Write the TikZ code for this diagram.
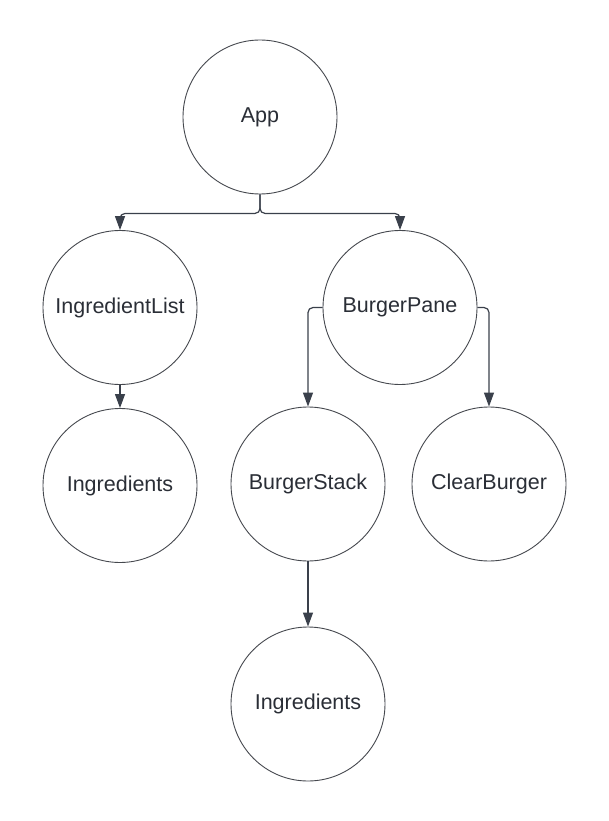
\documentclass[tikz,border=0pt]{standalone}
\usepackage{fontspec}
\setmainfont{Liberation Sans}
\usetikzlibrary{arrows.meta}
\definecolor{edgegray}{HTML}{45484E}
\definecolor{linkgray}{HTML}{3A404B}
\definecolor{inkdark}{HTML}{2A2E36}
\tikzset{
  comp/.style={circle, draw=edgegray, line width=0.9pt, minimum size=154pt, inner sep=0pt,
    text=inkdark, font=\fontsize{21.5}{25}\selectfont},
  link/.style={draw=linkgray, line width=1.2pt, rounded corners=5pt,
    -{Triangle[length=14pt,width=10pt,fill=linkgray]}}
}
\begin{document}
\begin{tikzpicture}[x=1pt, y=-1pt]
	\useasboundingbox (0,0) rectangle (608,821);
	\node[comp] (app) at (260,117) {App};
	\node[comp] (list) at (120,307.5) {IngredientList};
	\node[comp] (pane) at (400,307.5) {BurgerPane};
	\node[comp] (ingr) at (120,485.5) {Ingredients};
	\node[comp] (stack) at (308,484) {BurgerStack};
	\node[comp] (clear) at (489,484) {ClearBurger};
	\node[comp] (ingrb) at (308,704) {Ingredients};
	\draw[link] (app.south) -- ++(0,19) -| (list.north);
	\draw[link] (app.south) -- ++(0,19) -| (pane.north);
	\draw[link] (list.south) -- (ingr.north);
	\draw[link] (pane.west) -| (stack.north);
	\draw[link] (pane.east) -| (clear.north);
	\draw[link] (stack.south) -- (ingrb.north);
\end{tikzpicture}
\end{document}
